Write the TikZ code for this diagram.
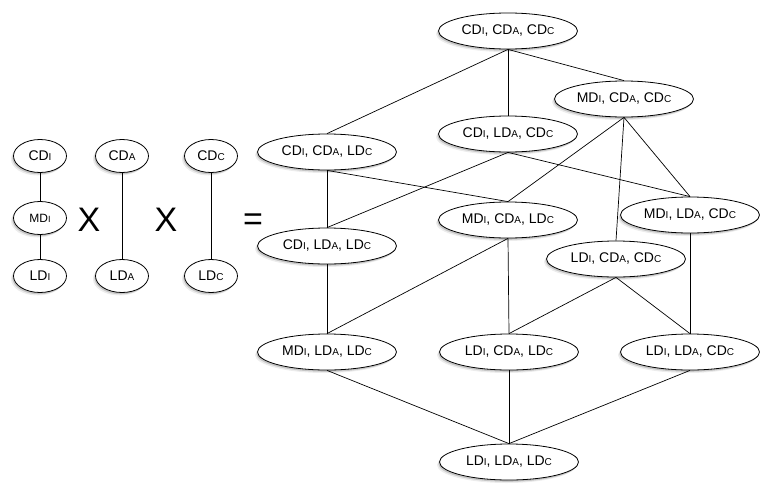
\documentclass[tikz,border=0pt]{standalone}
\usepackage{fontspec}
\setmainfont{Liberation Sans}
\usetikzlibrary{shapes.geometric,shadows}

\newcommand{\sm}[1]{{\fontsize{10}{10}\selectfont #1}}
\newcommand{\smm}[1]{{\fontsize{9}{9}\selectfont #1}}

\begin{document}
\begin{tikzpicture}[x=1pt, y=-1pt,
    st/.style={draw, ellipse, fill=white, line width=0.8pt, inner sep=0pt,
        drop shadow={shadow xshift=-2.5pt, shadow yshift=-3pt, opacity=0.15},
        drop shadow={shadow xshift=-1.2pt, shadow yshift=-1.8pt, opacity=0.35}},
    lvl/.style={st, minimum width=53pt, minimum height=33pt, font=\fontsize{14}{16}\selectfont},
    cmb/.style={st, minimum width=139pt, minimum height=36pt, font=\fontsize{14}{16}\selectfont},
    op/.style={font=\fontsize{34}{34}\selectfont},
    ln/.style={line width=0.7pt}
]
\useasboundingbox (0,0) rectangle (760,485);

% single dimensions
\node[lvl] (cdi) at (40,156) {CD\sm{I}};
\node[lvl, font=\fontsize{12}{14}\selectfont] (mdi) at (40,218) {MD\smm{I}};
\node[lvl] (ldi) at (40,276) {LD\sm{I}};
\node[lvl] (cda) at (122,156) {CD\sm{A}};
\node[lvl] (lda) at (122,276) {LD\sm{A}};
\node[lvl] (cdc) at (211,156) {CD\sm{C}};
\node[lvl] (ldc) at (211,276) {LD\sm{C}};
\node[op] (x1) at (89,220) {X};
\node[op] (x2) at (166,220) {X};
\node[op] (eq) at (253,222) {=};

\draw[ln] (cdi.south) -- (mdi.north);
\draw[ln] (mdi.south) -- (ldi.north);
\draw[ln] (cda.south) -- (lda.north);
\draw[ln] (cdc.south) -- (ldc.north);

% product lattice
\node[cmb] (ccc) at (508,31) {CD\sm{I}, CD\sm{A}, CD\sm{C}};
\node[cmb] (mcc) at (624,99) {MD\sm{I}, CD\sm{A}, CD\sm{C}};
\node[cmb] (clc) at (508,134) {CD\sm{I}, LD\sm{A}, CD\sm{C}};
\node[cmb] (ccl) at (327,152) {CD\sm{I}, CD\sm{A}, LD\sm{C}};
\node[cmb] (mcl) at (508,220) {MD\sm{I}, CD\sm{A}, LD\sm{C}};
\node[cmb] (mlc) at (690,215) {MD\sm{I}, LD\sm{A}, CD\sm{C}};
\node[cmb] (cll) at (327,246) {CD\sm{I}, LD\sm{A}, LD\sm{C}};
\node[cmb] (lcc) at (616,259) {LD\sm{I}, CD\sm{A}, CD\sm{C}};
\node[cmb] (mll) at (327,352) {MD\sm{I}, LD\sm{A}, LD\sm{C}};
\node[cmb] (lcl) at (509,352) {LD\sm{I}, CD\sm{A}, LD\sm{C}};
\node[cmb] (llc) at (690,352) {LD\sm{I}, LD\sm{A}, CD\sm{C}};
\node[cmb] (lll) at (509,462) {LD\sm{I}, LD\sm{A}, LD\sm{C}};

\draw[ln] (ccc.south) -- (ccl.north);
\draw[ln] (ccc.south) -- (clc.north);
\draw[ln] (ccc.south) -- (mcc.north);
\draw[ln] (mcc.south) -- (mcl.north);
\draw[ln] (mcc.south) -- (lcc.north);
\draw[ln] (mcc.south) -- (mlc.north);
\draw[ln] (ccl.south) -- (cll.north);
\draw[ln] (ccl.south) -- (mcl.north);
\draw[ln] (clc.south) -- (cll.north);
\draw[ln] (clc.south) -- (mlc.north);
\draw[ln] (cll.south) -- (mll.north);
\draw[ln] (mcl.south) -- (mll.north);
\draw[ln] (mcl.south) -- (lcl.north);
\draw[ln] (mlc.south) -- (llc.north);
\draw[ln] (lcc.south) -- (lcl.north);
\draw[ln] (lcc.south) -- (llc.north);
\draw[ln] (mll.south) -- (lll.north);
\draw[ln] (lcl.south) -- (lll.north);
\draw[ln] (llc.south) -- (lll.north);
\end{tikzpicture}
\end{document}
